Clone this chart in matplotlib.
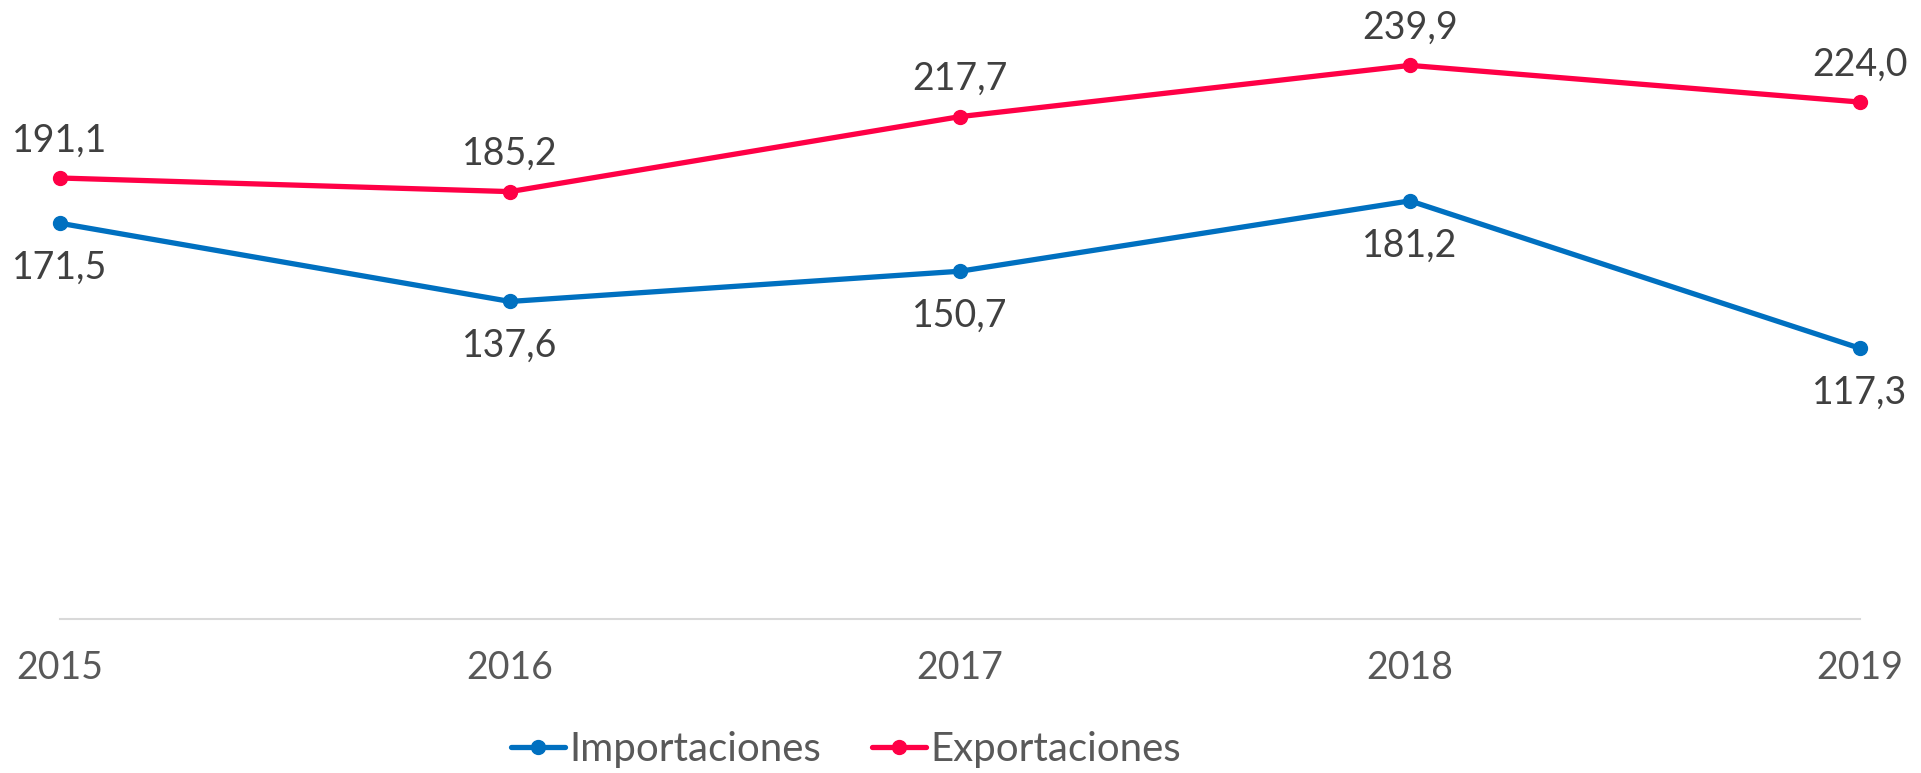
import matplotlib.pyplot as plt

years = ['2015', '2016', '2017', '2018', '2019']
importaciones = [171.5, 137.6, 150.7, 181.2, 117.3]
exportaciones = [191.1, 185.2, 217.7, 239.9, 224.0]

plt.rcParams['font.family'] = ['Lato', 'DejaVu Sans']

W, H = 1921, 773
fig = plt.figure(figsize=(W / 100, H / 100), dpi=100)
ax = fig.add_axes([60 / W, (H - 619) / H, 1800 / W, 600 / H])

x = list(range(len(years)))
blue = '#0070C0'
red = '#FF0046'

ax.plot(x, importaciones, color=blue, lw=3.8, marker='o', ms=10,
        solid_capstyle='round', label='Importaciones', clip_on=False)
ax.plot(x, exportaciones, color=red, lw=3.8, marker='o', ms=10,
        solid_capstyle='round', label='Exportaciones', clip_on=False)

def fmt(v):
    return f'{v:.1f}'.replace('.', ',')

# value labels: imports below the point, exports above
for xi, v in zip(x, importaciones):
    ax.annotate(fmt(v), (xi, v), xytext=(0, -32), textcoords='offset points',
                ha='center', va='center', fontsize=27, color='#404040')
for xi, v in zip(x, exportaciones):
    ax.annotate(fmt(v), (xi, v), xytext=(0, 27), textcoords='offset points',
                ha='center', va='center', fontsize=27, color='#404040')

ax.set_xlim(0, 4)
ax.set_ylim(0, 260)
ax.set_xticks(x)
ax.set_xticklabels(years)
ax.set_yticks([])
ax.tick_params(axis='x', length=0, pad=22, labelsize=27, labelcolor='#595959')
for s in ['top', 'right', 'left']:
    ax.spines[s].set_visible(False)
ax.spines['bottom'].set_color('#D9D9D9')
ax.spines['bottom'].set_linewidth(1.5)

fig.legend(loc='center', bbox_to_anchor=(846 / W, (H - 750) / H), ncol=2,
           frameon=False, fontsize=29, labelcolor='#595959',
           handlelength=1.35, handletextpad=0.1, columnspacing=1.25,
           markerscale=1.0)

fig.savefig('out.png', dpi=100)
